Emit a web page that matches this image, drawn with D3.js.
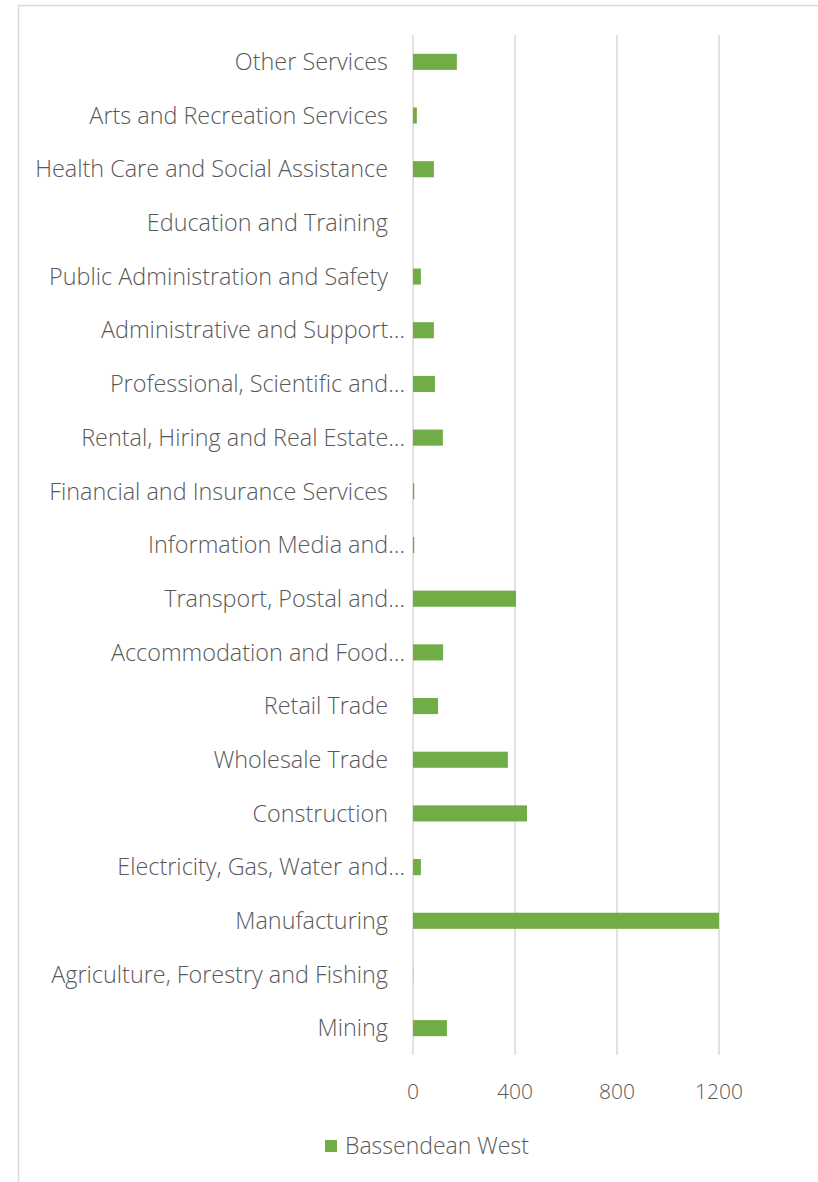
<!DOCTYPE html>
<html>
<head>
<meta charset="utf-8">
<script src="https://cdn.jsdelivr.net/npm/d3@7"></script>
<style>
  body { margin: 0; background: #fff; }
  text { font-family: "Open Sans", "Noto Sans", sans-serif; font-weight: 300; fill: #595959; }
</style>
</head>
<body>
<div id="chart"></div>
<script>
// categories top to bottom, as shown
var categories = [
  "Other Services",
  "Arts and Recreation Services",
  "Health Care and Social Assistance",
  "Education and Training",
  "Public Administration and Safety",
  "Administrative and Support…",
  "Professional, Scientific and…",
  "Rental, Hiring and Real Estate…",
  "Financial and Insurance Services",
  "Information Media and…",
  "Transport, Postal and…",
  "Accommodation and Food…",
  "Retail Trade",
  "Wholesale Trade",
  "Construction",
  "Electricity, Gas, Water and…",
  "Manufacturing",
  "Agriculture, Forestry and Fishing",
  "Mining"
];
var values = [172, 15, 82, 0, 31, 82, 86, 117, 5, 5, 404, 118, 98, 372, 447, 31, 1200, 1, 133];
var xTicks = [0, 400, 800, 1200];
var seriesName = "Bassendean West";

var W = 818, H = 1182;
var svg = d3.select("#chart").append("svg")
  .attr("width", W)
  .attr("height", H);

// chart frame
svg.append("path")
  .attr("d", "M18.5," + H + "V5.5H" + W)
  .attr("fill", "none")
  .attr("stroke", "#d9d9d9")
  .attr("stroke-width", 1.5);

var xScale = d3.scaleLinear().domain([0, 1200]).range([413, 719]);
var yScale = d3.scaleBand().domain(categories).range([35, 1055]).paddingInner(0.7).paddingOuter(0.35);

// gridlines
svg.append("g")
  .selectAll("line")
  .data(xTicks)
  .enter()
  .append("line")
  .attr("x1", function(d) { return xScale(d); })
  .attr("x2", function(d) { return xScale(d); })
  .attr("y1", 35)
  .attr("y2", 1055)
  .attr("stroke", "#d9d9d9")
  .attr("stroke-width", 1.5);

// bars
svg.append("g")
  .selectAll("rect")
  .data(values)
  .enter()
  .append("rect")
  .attr("x", xScale(0))
  .attr("y", function(d, i) { return yScale(categories[i]); })
  .attr("width", function(d) { return xScale(d) - xScale(0); })
  .attr("height", yScale.bandwidth())
  .attr("fill", "#70ad47");

// category labels (truncated ones run a bit further right, like Excel)
svg.append("g")
  .selectAll("text")
  .data(categories)
  .enter()
  .append("text")
  .attr("x", function(d) { return d.slice(-1) === "…" ? 405 : 388; })
  .attr("y", function(d) { return yScale(d) + yScale.bandwidth() / 2; })
  .attr("dy", "0.35em")
  .attr("text-anchor", "end")
  .style("font-size", "23.4px")
  .text(function(d) { return d; });

// x axis tick labels
svg.append("g")
  .selectAll("text")
  .data(xTicks)
  .enter()
  .append("text")
  .attr("x", function(d) { return xScale(d); })
  .attr("y", 1092)
  .attr("dy", "0.35em")
  .attr("text-anchor", "middle")
  .style("font-size", "21px")
  .text(function(d) { return d; });

// legend
var legend = svg.append("g").attr("transform", "translate(325, 1146)");
legend.append("rect")
  .attr("x", 0).attr("y", -6)
  .attr("width", 12).attr("height", 12)
  .attr("fill", "#70ad47");
legend.append("text")
  .attr("x", 20)
  .attr("dy", "0.35em")
  .style("font-size", "23px")
  .text(seriesName);
</script>
</body>
</html>
